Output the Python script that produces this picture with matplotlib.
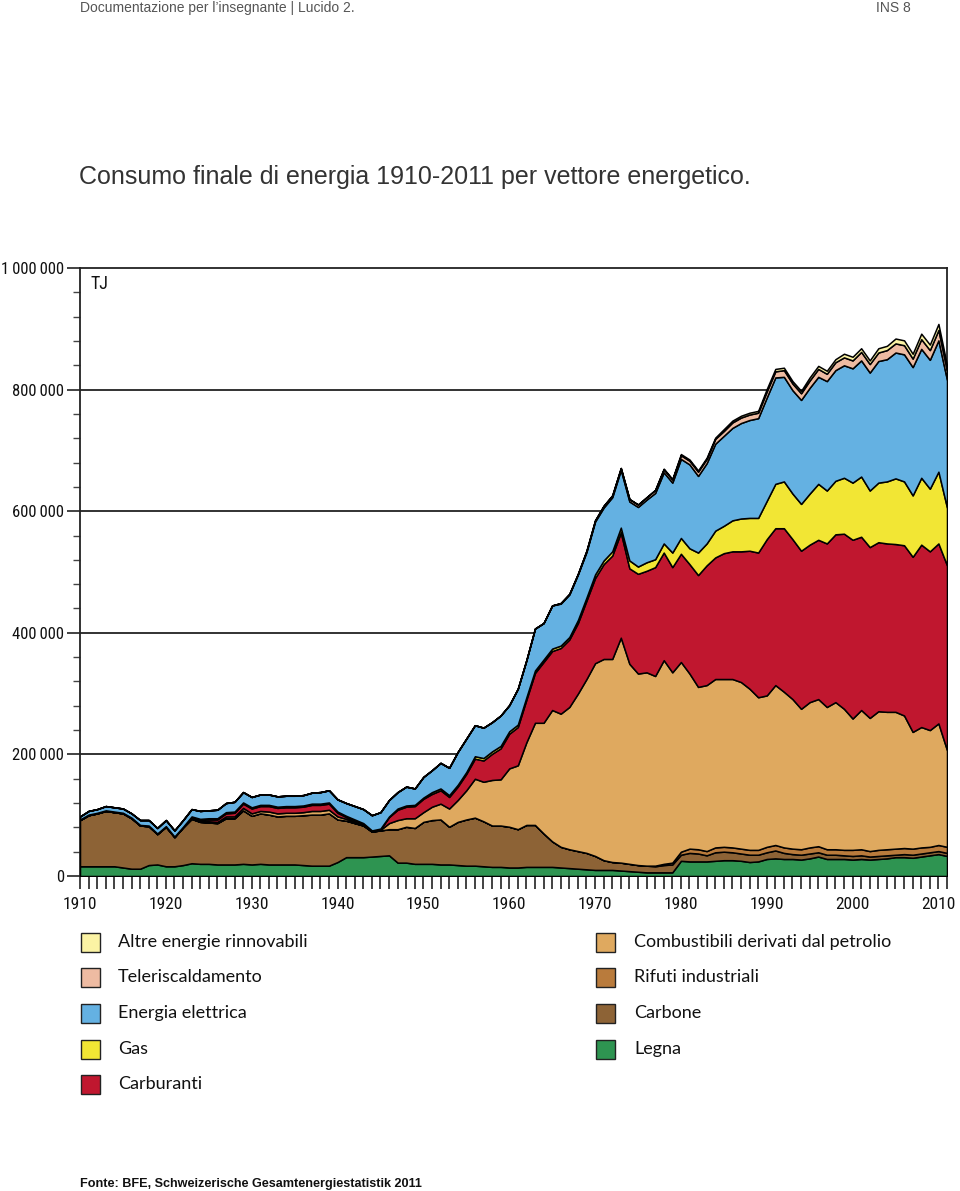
import matplotlib
matplotlib.use('Agg')
import matplotlib.pyplot as plt
import numpy as np
from matplotlib.patches import Rectangle
from matplotlib.ticker import MultipleLocator
from matplotlib import font_manager
from matplotlib.ft2font import FT2Font

# ---------------- data (thousand TJ) ----------------
years = list(range(1910, 2012))

legna = [16,16,16,16,16,14,12,12,18,19,
         16,16,18,21,20,20,19,19,19,20,
         19,20,19,19,19,19,18,17,17,17,
         23,31,31,31,32,33,34,22,22,20,
         20,20,19,19,18,17,17,16,15,15,
         14,14,15,15,15,15,14,13,12,11,
         10,10,10,9,8,7,6,6,6,6,
         25,24,24,24,25,26,26,25,23,24,
         28,29,28,28,27,29,32,28,28,28,
         27,28,27,28,29,31,31,30,32,34,
         36,33]

carbone = [76,84,87,91,89,89,83,71,64,50,
           65,48,62,73,69,68,68,76,76,88,
           80,83,82,79,80,80,82,84,84,86,
           70,60,56,52,41,42,43,55,59,59,
           69,72,74,62,71,76,79,74,68,68,
           67,63,69,69,55,42,34,31,29,27,
           23,16,13,13,12,11,11,10,12,13,
           10,14,13,10,14,14,13,12,12,11,
           11,13,10,8,8,8,7,7,7,6,
           6,6,5,5,5,4,5,5,5,5,
           5,5]

rifiuti = [0]*67 + [1,2,3,
           5,7,7,7,8,8,8,8,8,8,
           9,9,9,9,9,10,10,9,9,9,
           10,10,9,10,10,10,10,10,10,9,
           10,10]

combustibili = [0]*13 + [1,1,2,2,3,3,4,
                4,4,5,5,5,5,5,6,6,6,
                5,3,2,1,0,1,10,15,14,16,
                16,22,26,30,36,48,64,65,75,76,
                96,105,136,168,182,216,219,234,259,286,
                317,331,334,370,329,315,318,312,335,313,
                312,288,267,273,277,276,277,274,265,251,
                249,263,256,246,231,239,242,234,242,232,
                216,229,219,228,226,225,218,192,198,192,
                200,159]

carburanti = [0]*13 + [1,2,3,4,5,6,7,
              8,8,9,9,9,9,9,10,10,10,
              6,3,2,1,1,1,10,17,19,20,
              22,21,22,19,22,27,33,35,43,51,
              57,63,70,82,100,97,108,111,116,129,
              140,156,170,173,157,164,167,179,177,173,
              178,180,184,197,200,207,210,215,227,238,
              257,258,269,263,260,259,262,269,276,288,
              294,285,281,278,277,276,280,288,300,294,
              296,304]

gas = [1]*13 + [2]*21 + [1,1,1,2,2,2,2,
       3,3,3,3,3] + [4]*12 + [5,5,
       6,6,7,8,13,12,14,13,15,24,
       26,26,37,36,44,45,51,54,54,57,
       63,73,77,75,77,84,92,87,88,92,
       94,99,93,98,102,108,105,101,110,103,
       118,95]

elettrica = [5,6,6,7,7,7,7,8,9,9,
             10,10,11,12,13,13,14,15,16,17,
             17,17,17,17,17,17,17,18,19,20,
             20,21,22,23,25,27,27,27,31,27,
             34,36,42,45,54,55,51,50,48,50,
             43,59,61,69,60,71,69,70,75,75,
             87,87,89,95,97,98,103,109,117,115,
             130,138,126,132,143,148,152,157,161,164,
             170,175,172,170,171,174,176,180,182,185,
             188,191,194,200,201,207,209,211,212,212,
             216,210]

teleriscaldamento = [0]*56 + [1,1,1,2,
                     2,3,3,3,4,4,4,5,5,5,
                     6,6,7,7,8,8,9,9,9,9,
                     10,10,11,11,11,12,13,12,13,13,
                     13,14,14,14,15,15,15,14,16,16,
                     17,15]

altre = [0]*68 + [1,1,
         2,2,2,2,2,3,3,3,3,3,
         4,4,4,4,4,5,5,5,5,6,
         6,6,6,7,7,8,8,8,9,9,
         10,9]

series_names = ["Legna", "Carbone", "Rifuti industriali",
                "Combustibili derivati dal petrolio", "Carburanti", "Gas",
                "Energia elettrica", "Teleriscaldamento", "Altre energie rinnovabili"]
series_values = [legna, carbone, rifiuti, combustibili, carburanti, gas,
                 elettrica, teleriscaldamento, altre]
colors = ["#2e9451", "#8d6336", "#b97b3c", "#dfa95f", "#c0172f", "#f2e634",
          "#64b1e2", "#eebba2", "#fbf3a4"]

yticks = [0, 200000, 400000, 600000, 800000, 1000000]
xtick_labels = [1910, 1920, 1930, 1940, 1950, 1960, 1970, 1980, 1990, 2000, 2010]

# ---------------- fonts ----------------
def find_condensed():
    cands = [('Liberation Sans Narrow', 'normal'), ('Roboto Condensed', 'normal'),
             ('Noto Sans', 'condensed'), ('DejaVu Sans', 'condensed'),
             ('Open Sans', 'condensed'), ('Roboto', 'condensed')]
    for fam, st in cands:
        try:
            p = font_manager.findfont(font_manager.FontProperties(family=fam, stretch=st),
                                      fallback_to_default=False)
        except Exception:
            continue
        low = p.lower()
        if 'narrow' in low or 'condensed' in low:
            return p
    return None

cond_path = find_condensed()
if cond_path:
    def tick_fp(size):
        return font_manager.FontProperties(fname=cond_path, size=size)
    ytick_size = 12.0
    xtick_size = 12.5
    try:
        sep = "\u2009" if 0x2009 in FT2Font(cond_path).get_charmap() else " "
    except Exception:
        sep = " "
else:
    def tick_fp(size):
        return font_manager.FontProperties(family='Lato', size=size)
    ytick_size = 10.5
    xtick_size = 10.8
    sep = " "
lab_font = ['Lato', 'DejaVu Sans']
head_font = ['Liberation Sans', 'DejaVu Sans']

# ---------------- figure ----------------
W, H = 960, 1191
fig = plt.figure(figsize=(W/100, H/100), dpi=100)
fig.patch.set_facecolor('white')

def fx(px):
    return px / W

def fy(py):
    return 1 - py / H

ax = fig.add_axes([fx(80), fy(876), fx(947) - fx(80), fy(268) - fy(876)])

yrs = np.array(years)
data = np.array(series_values, dtype=float) * 1000
ax.stackplot(yrs, data, colors=colors, edgecolor='black', linewidth=1.1, zorder=3)

for v in yticks[1:-1]:
    ax.axhline(v, color='#222222', lw=1.3, zorder=1)

ax.set_xlim(1910, 2011)
ax.set_ylim(0, 1000000)

for s in ax.spines.values():
    s.set_color('#222222')
    s.set_linewidth(1.3)

ax.set_yticks(yticks)
ax.yaxis.set_minor_locator(MultipleLocator(40000))
ax.set_yticklabels([f"{v:,}".replace(",", sep) for v in yticks],
                   fontproperties=tick_fp(ytick_size), color='#111111')
ax.set_xticks(xtick_labels)
ax.set_xticklabels([str(v) for v in xtick_labels],
                   fontproperties=tick_fp(xtick_size), color='#111111')
ax.xaxis.set_minor_locator(MultipleLocator(1))
ax.tick_params(axis='x', which='both', direction='out', length=9, width=1.2,
               color='#222222', pad=6)
ax.tick_params(axis='y', which='major', direction='out', length=9.3, width=1.2,
               color='#222222', pad=2.2)
ax.tick_params(axis='y', which='minor', direction='out', length=5, width=1.0,
               color='#444444')

ax.text(0.012, 0.988, "TJ", transform=ax.transAxes, fontproperties=tick_fp(13),
        va='top', ha='left', color='#111111')

# ---------------- texts ----------------
fig.text(fx(80), fy(8), "Documentazione per l\u2019insegnante | Lucido 2.",
         fontsize=10, family=head_font, color='#555555', va='center', ha='left')
fig.text(fx(911), fy(8), "INS 8", fontsize=10, family=head_font,
         color='#555555', va='center', ha='right')
fig.text(fx(79), fy(177), "Consumo finale di energia 1910-2011 per vettore energetico.",
         fontsize=18, family=head_font, color='#333333', va='center', ha='left')
fig.text(fx(80), fy(1184), "Fonte: BFE, Schweizerische Gesamtenergiestatistik 2011",
         fontsize=9.1, family=head_font, fontweight='bold', color='#111111',
         va='center', ha='left')

# ---------------- legend ----------------
left_items = [8, 7, 6, 5, 4]
right_items = [3, 2, 1, 0]
row_y = [942, 977, 1013, 1049, 1084]

def legend_entry(idx, xsq, xtxt, ypix):
    sq = 19
    fig.patches.append(Rectangle((fx(xsq), fy(ypix + sq/2)), sq / W, sq / H,
                                 transform=fig.transFigure, facecolor=colors[idx],
                                 edgecolor='#222222', linewidth=1.0))
    fig.text(fx(xtxt), fy(ypix), series_names[idx], fontsize=13,
             family=lab_font, color='#111111', va='center', ha='left')

for i, idx in enumerate(left_items):
    legend_entry(idx, 81, 118, row_y[i])
for i, idx in enumerate(right_items):
    legend_entry(idx, 596, 634, row_y[i])

fig.savefig('out.png', dpi=100, facecolor='white')
